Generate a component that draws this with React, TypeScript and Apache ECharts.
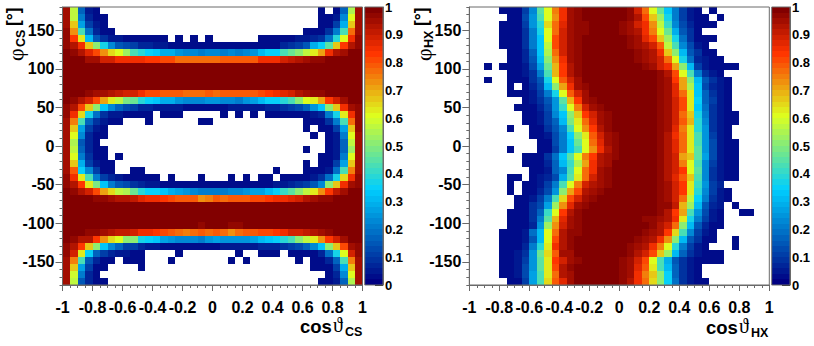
import React, { useEffect, useRef } from "react";
import * as echarts from "echarts";

// Bin contents in percent of the colour scale, top row first (phi 171..180 downwards); 0 = empty bin.
const csRows: number[][] = [
[95,57,17,5,3,0,0,0,0,0, 0,0,0,0,0,0,0,0,0,0, 0,0,0,0,0,0,0,0,0,0, 0,0,0,0,2,0,3,17,55,95],
[95,58,20,7,3,2,0,0,0,0, 0,0,0,0,0,0,0,0,0,0, 0,0,0,0,0,0,0,0,0,0, 0,0,0,0,2,2,5,22,60,95],
[95,66,27,10,4,2,0,0,0,0, 0,0,0,0,0,0,0,0,0,0, 0,0,0,0,0,0,0,0,0,0, 0,0,0,0,2,2,10,28,66,95],
[96,73,42,18,7,3,2,0,0,0, 0,0,0,0,0,0,0,0,0,0, 0,0,0,0,0,0,0,0,0,0, 0,0,2,3,3,8,20,42,76,95],
[97,83,62,30,15,8,5,4,3,3, 3,3,2,2,0,2,0,2,0,2, 0,0,0,0,0,0,2,3,3,3, 3,5,5,6,8,18,38,60,85,96],
[97,92,84,66,50,36,22,15,12,10, 7,7,5,5,3,3,3,3,3,3, 3,3,3,3,3,3,3,3,3,7, 8,10,15,28,34,45,67,83,93,97],
[99,96,92,87,80,72,65,60,52,43, 38,34,32,28,28,25,23,22,20,22, 23,20,22,20,22,25,30,34,35,42, 47,50,56,62,70,84,92,95,98,99],
[99,99,98,95,95,89,88,85,85,84, 84,83,82,80,80,77,77,76,77,77, 77,78,78,78,78,78,85,84,85,88, 90,93,95,96,97,98,99,99,99,99],
[100,100,100,100,100,99,99,99,99,99, 99,99,99,99,99,99,99,99,99,99, 99,99,99,99,99,99,99,99,99,99, 99,99,99,100,100,100,100,100,100,100],
[100,100,100,100,100,100,100,100,100,100, 100,100,100,100,100,100,100,100,100,100, 100,100,100,100,100,100,100,100,100,100, 100,100,100,100,100,100,100,100,100,100],
[100,100,100,100,100,100,100,100,100,100, 100,100,100,100,100,100,100,100,100,100, 100,100,100,100,100,100,100,100,100,100, 100,100,100,100,100,100,100,100,100,100],
[100,100,100,100,100,100,100,100,100,100, 99,99,99,99,99,99,99,99,99,99, 99,99,99,99,99,99,99,99,100,100, 100,100,100,100,100,100,100,100,100,100],
[99,99,98,97,95,94,92,90,89,88, 85,81,80,79,78,78,77,76,77,78, 77,78,78,78,78,79,80,82,85,87, 88,92,94,96,97,98,99,99,99,99],
[98,96,93,88,80,70,63,57,49,47, 38,34,33,29,28,25,22,22,22,24, 24,22,22,20,24,26,30,34,34,38, 42,50,60,62,70,82,89,95,98,99],
[97,92,80,67,50,33,22,17,12,10, 7,7,5,5,5,5,3,3,3,3, 3,3,4,4,5,5,5,6,7,8, 10,12,17,25,33,50,67,84,94,97],
[97,85,65,36,18,8,5,4,3,3, 3,3,0,2,2,2,0,0,0,0, 0,2,0,2,0,2,0,2,2,2, 2,3,3,5,7,20,36,62,85,96],
[95,75,42,17,8,4,3,2,0,0, 0,2,0,0,0,0,0,0,2,2, 0,0,0,0,0,0,0,0,0,0, 0,0,2,3,3,8,20,42,76,96],
[95,67,27,10,4,3,0,0,0,0, 0,0,0,0,0,0,0,0,0,0, 0,0,0,0,0,0,0,0,0,0, 0,0,2,0,2,3,10,27,67,96],
[94,60,22,7,3,2,0,0,0,0, 0,0,0,0,0,0,0,0,0,0, 0,0,0,0,0,0,0,0,0,0, 0,0,0,2,0,2,5,20,60,95],
[94,55,15,6,2,0,0,0,0,0, 0,0,0,0,0,0,0,0,0,0, 0,0,0,0,0,0,0,0,0,0, 0,0,0,0,0,2,5,17,57,95],
[94,56,17,6,3,2,0,0,0,0, 0,0,0,0,0,0,0,0,0,0, 0,0,0,0,0,0,0,0,0,0, 0,0,2,0,0,2,5,17,53,95],
[94,60,20,8,3,2,0,2,0,0, 0,0,0,0,0,0,0,0,0,0, 0,0,0,0,0,0,0,0,0,0, 0,0,0,0,2,2,5,20,60,95],
[95,66,28,10,5,3,2,0,0,0, 0,0,0,0,0,0,0,0,0,0, 0,0,0,0,0,0,0,0,0,0, 0,0,2,0,3,3,10,27,66,95],
[95,78,35,22,10,3,2,0,0,2, 2,0,0,0,0,0,0,0,0,0, 0,0,0,0,0,0,0,0,2,0, 0,0,2,2,3,5,18,42,75,95],
[96,84,62,42,20,10,7,5,3,3, 3,2,2,0,2,0,0,0,2,0, 0,0,2,0,2,0,2,2,0,2, 2,2,3,5,8,18,36,64,85,96],
[97,92,82,62,48,33,20,15,12,8, 7,5,5,3,3,3,3,3,3,3, 3,3,3,3,3,3,3,3,4,5, 6,8,10,15,22,50,66,84,94,97],
[99,96,93,89,80,70,64,57,55,47, 38,34,34,32,28,26,24,22,21,20, 20,20,22,22,25,27,27,30,34,40, 45,50,56,62,72,82,90,95,98,99],
[99,99,98,98,97,97,94,92,92,90, 87,84,84,82,80,78,79,78,72,74, 78,77,79,78,78,80,80,83,84,85, 87,89,92,94,96,97,98,99,99,99],
[99,99,99,99,99,99,99,99,99,99, 99,99,99,99,99,99,99,99,99,99, 99,99,99,99,99,99,99,99,99,99, 99,99,99,99,100,100,100,100,100,100],
[100,100,100,100,100,100,100,100,100,100, 100,100,100,100,100,100,100,100,100,100, 100,100,100,100,100,100,100,100,100,100, 100,100,100,100,100,100,100,100,100,100],
[100,100,100,100,100,100,100,100,100,100, 100,100,100,100,100,100,100,100,100,100, 100,100,100,100,100,100,100,100,100,100, 100,100,100,100,100,100,100,100,100,100],
[100,100,100,100,100,100,99,99,99,99, 99,99,99,99,98,98,98,98,97,98, 98,98,97,97,98,99,99,99,99,99, 99,99,100,100,100,100,100,100,100,100],
[99,99,98,97,96,95,92,90,90,88, 85,85,82,80,79,77,75,77,78,77, 78,76,73,76,78,78,80,80,82,84, 88,88,90,92,95,96,98,99,99,99],
[99,96,92,92,82,73,64,60,50,50, 36,34,33,27,25,22,22,22,20,24, 26,24,25,24,24,26,30,32,34,38, 42,50,58,62,73,82,89,95,98,99],
[97,93,82,66,50,33,22,17,10,10, 7,5,4,3,3,3,3,3,3,3, 3,5,5,5,5,5,6,6,7,8, 10,12,17,22,33,50,66,80,94,97],
[97,88,62,34,17,10,7,5,4,3, 3,0,0,0,0,2,0,0,0,0, 0,0,0,2,0,0,2,2,2,0, 2,2,3,3,7,18,36,60,88,96],
[95,75,42,15,7,3,3,0,2,2, 2,0,0,0,2,0,0,0,0,0, 0,0,2,0,2,0,0,0,0,0, 0,2,0,2,2,7,17,43,75,95],
[95,66,27,10,3,2,0,0,0,0, 2,0,0,0,0,0,0,0,0,0, 0,0,0,0,0,0,0,0,0,0, 0,0,0,2,2,3,10,28,67,95],
[94,59,20,7,3,0,0,0,0,0, 0,0,0,0,0,0,0,0,0,0, 0,0,0,0,0,0,0,0,0,0, 0,0,0,0,0,2,7,22,60,95],
[94,57,15,6,3,2,0,0,0,0, 0,0,0,0,0,0,0,0,0,0, 0,0,0,0,0,0,0,0,0,0, 0,0,0,0,2,3,5,17,55,95],
];

const hxRows: number[][] = [
[0,0,0,0,2,2,3,10,22,45, 60,74,85,94,97,98,99,99,99,99, 98,97,88,77,60,47,32,20,10,4, 2,0,2],
[0,0,0,0,0,2,3,12,25,42, 60,73,85,94,97,98,99,99,99,99, 98,97,92,80,67,52,36,20,10,5, 2,2,0,2],
[0,0,0,0,2,2,3,10,24,38, 65,76,87,94,96,97,98,99,99,98, 97,95,89,85,72,58,40,23,12,7, 3,2,2],
[0,0,0,0,2,2,3,8,20,36, 60,76,88,94,96,97,98,99,99,98, 97,95,92,85,75,60,46,28,14,8, 3],
[0,0,0,0,2,2,3,8,20,33, 60,80,89,94,97,98,99,99,99,99, 98,97,94,87,80,66,52,36,18,8, 3,2,2],
[0,0,0,0,2,2,3,8,20,33, 57,80,88,95,97,98,99,99,99,99, 98,97,95,92,88,78,58,42,22,12, 5,3],
[0,0,0,0,0,2,3,7,17,33, 55,76,88,95,97,98,99,99,99,99, 99,98,97,94,92,85,67,50,30,15, 8,3,3],
[0,0,0,0,0,2,3,7,15,30, 50,72,85,94,97,98,99,99,99,99, 99,98,97,95,93,89,77,60,36,18, 7,5,3,2],
[0,0,2,0,2,2,3,5,13,27, 46,68,82,92,97,98,99,99,99,99, 99,99,98,97,94,89,84,71,50,30, 10,5,3,2,2,2],
[0,0,0,0,0,2,3,4,8,20, 42,68,82,92,97,98,99,99,99,99, 99,99,99,99,98,96,93,80,60,42, 20,8,4,2],
[0,0,2,0,0,2,2,3,8,15, 36,60,78,89,95,98,99,99,99,99, 99,99,99,99,98,97,94,82,70,50, 30,14,8,4,2],
[0,0,0,0,0,2,0,3,6,13, 30,50,70,84,94,97,98,99,99,99, 99,99,99,99,98,97,94,86,70,55, 32,13,6,4,2],
[0,0,0,0,0,2,2,3,5,10, 20,36,60,78,89,95,98,99,99,99, 99,99,99,99,98,97,94,87,76,62, 33,16,8,5,2],
[0,0,0,0,0,0,0,2,4,8, 15,25,45,68,82,94,97,98,99,99, 99,99,99,99,98,97,94,88,80,62, 35,16,10,5,2],
[0,0,0,0,0,0,2,2,3,7, 13,25,40,60,74,88,95,97,98,99, 99,99,99,99,98,97,94,88,80,62, 33,18,8,5,2],
[0,0,0,0,0,0,0,2,3,5, 10,22,33,50,66,82,89,95,97,99, 99,99,99,99,98,97,94,88,77,66, 36,20,8,5,3,2],
[0,0,0,0,0,0,0,2,2,4, 10,17,30,48,62,76,87,94,97,99, 99,99,99,99,98,97,94,88,78,68, 38,22,8,5,3,2],
[0,0,0,0,0,2,0,0,2,3, 8,15,22,42,60,72,83,92,96,99, 99,99,99,99,98,97,94,87,74,62, 38,24,8,5,2],
[0,0,0,0,0,0,0,0,2,2, 5,12,20,34,50,62,78,89,95,97, 99,99,99,99,98,97,92,85,76,62, 42,24,10,5,3],
[0,0,0,0,0,0,0,0,0,2, 3,12,20,33,47,60,76,87,94,97, 99,99,99,99,98,97,93,87,76,62, 42,24,12,5,3,2],
[0,0,0,0,0,2,0,0,0,2, 3,10,20,33,42,60,72,85,93,97, 99,99,99,99,98,97,93,87,76,62, 44,25,12,5,3,2],
[0,0,0,0,0,0,0,2,2,3, 8,18,33,44,60,75,82,92,95,97, 99,99,99,99,98,97,93,88,70,66, 44,26,12,5,3,2],
[0,0,0,0,0,0,0,2,2,3, 7,17,30,40,55,70,85,92,95,99, 99,99,99,99,98,97,93,88,74,60, 42,22,10,5,3,2],
[0,0,0,0,0,0,0,0,2,3, 5,17,22,42,60,76,85,94,97,99, 99,99,99,99,98,97,92,88,82,60, 44,22,8,5,3,2],
[0,0,0,0,0,2,2,0,3,4, 7,12,28,45,62,76,88,94,97,99, 99,99,99,99,98,97,93,87,78,66, 42,22,8,5,2,2],
[0,0,0,0,0,2,0,2,3,5, 10,20,42,60,74,88,92,95,97,99, 99,99,99,99,98,97,94,88,82,62, 40,24,10,7],
[0,0,0,0,0,2,0,2,3,7, 12,25,50,70,80,92,95,97,98,99, 99,99,99,99,98,97,94,88,82,62, 38,22,10,5,3],
[0,0,0,0,0,0,2,3,5,10, 20,42,65,80,89,95,97,98,99,99, 99,99,99,99,98,97,95,88,76,58, 34,20,8,5,2],
[0,0,0,0,0,0,2,3,8,12, 27,52,73,87,94,97,98,99,99,99, 99,99,99,99,98,97,96,90,68,52, 30,15,7,4,0,2],
[0,0,0,0,0,2,2,3,8,17, 40,60,82,92,96,98,99,99,99,99, 99,99,99,98,98,96,92,83,70,42, 25,12,5,3,0,0,2,2],
[0,0,0,0,0,2,2,3,8,20, 45,68,87,94,97,98,99,99,99,99, 99,99,98,97,97,95,92,85,62,36, 20,10,5,2],
[0,0,0,0,0,2,2,3,7,25, 52,72,89,94,97,98,99,99,99,99, 99,99,98,98,96,93,88,76,50,30, 15,7,3,2],
[0,0,0,0,2,2,3,5,18,30, 60,76,92,96,97,98,99,99,99,99, 99,98,98,97,95,92,82,65,42,22, 10,5,3],
[0,0,0,0,2,2,3,5,15,30, 60,80,92,97,98,99,99,99,99,99, 99,98,97,95,92,85,72,50,30,15, 8,3,2,0,0,2],
[0,0,0,0,2,2,3,7,20,38, 62,84,92,96,98,99,99,99,99,99, 98,97,95,92,85,75,60,38,20,10, 5,3,0,0,0,2],
[0,0,0,0,2,2,4,8,25,47, 65,78,94,95,98,99,99,99,99,99, 98,96,93,88,80,66,52,30,17,8, 5,3,2,2],
[0,0,0,0,2,2,4,10,24,45, 63,82,89,95,97,98,99,99,99,99, 97,94,88,80,60,42,28,15,8,4, 3,2,2,2],
[0,0,0,0,2,2,4,12,25,45, 62,80,92,96,98,99,99,99,99,98, 97,94,87,78,62,42,30,17,8,5, 3],
[0,0,0,0,2,3,5,12,27,42, 62,76,92,95,98,99,99,99,99,98, 97,94,85,74,66,50,34,17,8,4, 3],
[0,0,0,0,0,2,3,10,27,42, 64,78,87,95,98,99,99,99,99,98, 96,92,85,76,65,50,34,18,8,5, 3,2],
];

const phiMajorTicks = [-150, -100, -50, 0, 50, 100, 150];
const phiMinorTicks = [-180, -170, -160, -140, -130, -120, -110, -90, -80, -70, -60, -40, -30, -20, -10, 10, 20, 30, 40, 60, 70, 80, 90, 110, 120, 130, 140, 160, 170, 180];

// ROOT's 50-step rainbow palette: stops and their RGB values.
const paletteStops = [0, 0.34, 0.61, 0.84, 1];
const paletteRed = [0, 0, 0.87, 1, 0.51];
const paletteGreen = [0, 0.81, 1, 0.2, 0];
const paletteBlue = [0.51, 1, 0.12, 0, 0];
const PALETTE_SIZE = 50;

const lerp = (chan: number[], t: number) => {
  let i = 0;
  while (i < paletteStops.length - 2 && t > paletteStops[i + 1]) i++;
  const f = (t - paletteStops[i]) / (paletteStops[i + 1] - paletteStops[i]);
  return Math.round((chan[i] + (chan[i + 1] - chan[i]) * f) * 255);
};
const palette = Array.from({ length: PALETTE_SIZE }, (_, i) => {
  const t = i / (PALETTE_SIZE - 1);
  return `rgb(${lerp(paletteRed, t)},${lerp(paletteGreen, t)},${lerp(paletteBlue, t)})`;
});
const colorOf = (v: number) => palette[Math.min(PALETTE_SIZE - 1, Math.floor(v * PALETTE_SIZE))];

const N_BINS = 40;
const cosWidth = 2 / N_BINS;
const phiWidth = 360 / N_BINS;

const flatten = (rows: number[][]) => {
  const out: number[][] = [];
  rows.forEach((row, j) => {
    row.forEach((pct, i) => {
      if (pct > 0) out.push([-1 + i * cosWidth, 180 - (j + 1) * phiWidth, pct / 100]);
    });
  });
  return out;
};

const cellRenderer = (dx: number, dy: number) => (_p: any, api: any) => {
  const x = api.value(0);
  const y = api.value(1);
  const a = api.coord([x, y + dy]);
  const b = api.coord([x + dx, y]);
  const x0 = Math.round(a[0]);
  const y0 = Math.round(a[1]);
  return {
    type: "rect",
    shape: { x: x0, y: y0, width: Math.round(b[0]) - x0, height: Math.round(b[1]) - y0 },
    style: { fill: colorOf(api.value(2)) },
  };
};

const AXIS = "#6a6a6a";
const FONT = "'Liberation Sans', Arial, sans-serif";
const TOP = 7;
const H = 278;
const panels = [
  { left: 62.5, cb: 364.7 },
  { left: 469.3, cb: 771.7 },
];
const PW = 300;
const CBW = 18.3;

const tx = (text: string, x: number, y: number, size: number, family = FONT, weight: any = "bold", extra: any = {}) => ({
  type: "text",
  x,
  y,
  style: { text, fontSize: size, fontFamily: family, fontWeight: weight, fill: "#000", align: "left", verticalAlign: "middle", ...extra },
});

export default function App() {
  const ref = useRef<HTMLDivElement>(null);
  useEffect(() => {
    document.body.style.margin = "0";
    const chart = echarts.init(ref.current!, undefined, { renderer: "svg" });
    const grid: any[] = [];
    const xAxis: any[] = [];
    const yAxis: any[] = [];
    const series: any[] = [];
    panels.forEach((p, k) => {
      const g = grid.length;
      grid.push({ left: p.left, top: TOP, width: PW, height: H, show: false });
      grid.push({ left: p.cb, top: TOP, width: CBW, height: H, show: false });
      const xi = xAxis.length;
      xAxis.push({
        type: "value", gridIndex: g, min: -1, max: 1, interval: 0.2, position: "bottom",
        axisLine: { onZero: false, lineStyle: { color: AXIS } },
        axisTick: { length: 6, lineStyle: { color: AXIS } },
        minorTick: { show: true, splitNumber: 4, length: 3, lineStyle: { color: AXIS } },
        splitLine: { show: false }, minorSplitLine: { show: false },
        axisLabel: { fontFamily: FONT, fontSize: 16, fontWeight: "bold", color: "#000", margin: 14, formatter: (v: number) => String(Math.round(v * 10) / 10) },
      });
      xAxis.push({ type: "value", gridIndex: g + 1, min: 0, max: 1, show: false });
      const yi = yAxis.length;
      yAxis.push({
        type: "value", gridIndex: g, min: -180, max: 180, position: "left",
        axisLine: { onZero: false, lineStyle: { color: AXIS } },
        axisTick: { length: 7, customValues: phiMajorTicks, lineStyle: { color: AXIS } },
        splitLine: { show: false },
        axisLabel: { customValues: phiMajorTicks, fontFamily: FONT, fontSize: 16, fontWeight: "bold", color: "#000", margin: 8 },
      });
      yAxis.push({
        type: "value", gridIndex: g, min: -180, max: 180, position: "left",
        axisLine: { show: false, onZero: false },
        axisTick: { length: 3, customValues: phiMinorTicks, lineStyle: { color: AXIS } },
        splitLine: { show: false }, axisLabel: { show: false },
      });
      yAxis.push({
        type: "value", gridIndex: g + 1, min: 0, max: 1, interval: 0.1, position: "right",
        axisLine: { onZero: false, lineStyle: { color: AXIS } },
        axisTick: { inside: true, length: 8, lineStyle: { color: "#222" } },
        splitLine: { show: false },
        axisLabel: { fontFamily: FONT, fontSize: 13, fontWeight: "bold", color: "#000", margin: 2, formatter: (v: number) => String(Math.round(v * 10) / 10) },
      });
      series.push({
        type: "custom", xAxisIndex: xi, yAxisIndex: yi, silent: true, clip: true, progressive: 0,
        encode: { x: 0, y: 1 }, z: 1,
        data: flatten(k === 0 ? csRows : hxRows),
        renderItem: cellRenderer(cosWidth, phiWidth),
      });
      series.push({
        type: "custom", xAxisIndex: xi + 1, yAxisIndex: yi + 2, silent: true, clip: true, progressive: 0,
        encode: { x: 0, y: 1 }, z: 1,
        data: palette.map((_, i) => [0, i / PALETTE_SIZE, (i + 0.5) / PALETTE_SIZE]),
        renderItem: cellRenderer(1, 1 / PALETTE_SIZE),
      });
    });
    const frame = (x: number, w: number) => ({
      type: "rect", shape: { x, y: TOP, width: w, height: H }, z: 50, silent: true,
      style: { fill: "none", stroke: AXIS, lineWidth: 1 },
    });
    const SERIF = "'Liberation Serif', serif";
    const graphic: any[] = [
      frame(panels[0].left, PW), frame(panels[1].left, PW), frame(panels[0].cb, CBW), frame(panels[1].cb, CBW),
      tx("cos", 300, 326, 18.5), tx("ϑ", 333, 325, 20, SERIF, "normal"), tx("CS", 345, 332, 12.5),
      tx("cos", 706, 327, 18.5), tx("ϑ", 739, 326, 20, SERIF, "normal"), tx("HX", 751, 333, 12.5),
      {
        type: "group", x: 15, y: 61, rotation: Math.PI / 2,
        children: [tx("φ", 0, 0, 22, SERIF, "normal"), tx("CS", 14, 6, 12.5), tx("[°]", 35, -2.5, 17.5)],
      },
      {
        type: "group", x: 423, y: 61, rotation: Math.PI / 2,
        children: [tx("φ", 0, 0, 22, SERIF, "normal"), tx("HX", 13, 6, 12.5), tx("[°]", 35, -2, 17.5)],
      },
    ];
    chart.setOption({ animation: false, backgroundColor: "#fff", grid, xAxis, yAxis, series, graphic });
    return () => chart.dispose();
  }, []);
  return <div ref={ref} style={{ width: 814, height: 346 }} />;
}
